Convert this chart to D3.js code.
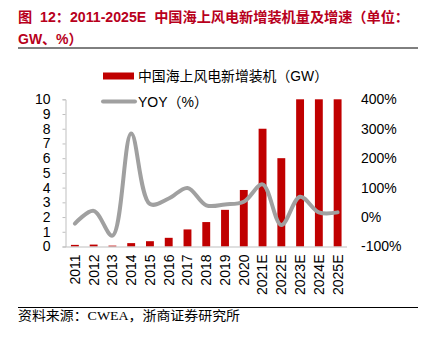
<!DOCTYPE html>
<html><head><meta charset="utf-8">
<script src="https://cdn.jsdelivr.net/npm/d3@7/dist/d3.min.js"></script>
<style>
body{margin:0;background:#fff;}
svg{display:block;}
</style></head>
<body><svg id="c" width="429" height="342"></svg>
<script>
const categories = ["2011","2012","2013","2014","2015","2016","2017","2018","2019","2020","2021E","2022E","2023E","2024E","2025E"];
const capacity = [0.11,0.13,0.06,0.23,0.36,0.59,1.16,1.66,2.49,3.84,8,6,10,10,10];
const yoy = [-22,21,-63,284,44,63,99,40,43,52,111,-27,69,16,16];
const leftTicks = [0,1,2,3,4,5,6,7,8,9,10];
const rightTicks = [-100,0,100,200,300,400];

const svg = d3.select("#c");
const sans = "Arial, 'Liberation Sans', 'Noto Sans CJK SC', sans-serif";
const red = "#c00000";

// Title
svg.append("text").attr("x",18).attr("y",22)
  .attr("fill","#b8001c").attr("font-weight","bold").attr("font-size",14)
  .attr("font-family",sans).attr("xml:space","preserve")
  .text("图  12：2011-2025E  中国海上风电新增装机量及增速（单位：")
  .attr("textLength",391).attr("lengthAdjust","spacingAndGlyphs");
svg.append("text").attr("x",18).attr("y",44)
  .attr("fill","#b8001c").attr("font-weight","bold").attr("font-size",14)
  .attr("font-family",sans).text("GW、%）");
svg.append("line").attr("x1",18).attr("x2",418).attr("y1",48).attr("y2",48)
  .attr("stroke","#000").attr("stroke-width",1);

// Scales
const x = d3.scaleBand().domain(categories).range([65.5,347]).paddingInner(0.58).paddingOuter(0.29);
const yL = d3.scaleLinear().domain([0,10]).range([246.5,99.3]);
const yR = d3.scaleLinear().domain([-100,400]).range([246.5,99.3]);

// Bars
svg.append("g").selectAll("rect").data(capacity).join("rect")
  .attr("x",(d,i)=>x(categories[i]))
  .attr("width",x.bandwidth())
  .attr("y",d=>yL(d))
  .attr("height",d=>yL(0)-yL(d))
  .attr("fill",red);

// Left axis
const gL = svg.append("g").attr("transform","translate(65.5,0)")
  .call(d3.axisLeft(yL).tickValues(leftTicks).tickSize(3).tickPadding(12).tickFormat(d3.format("d")));
gL.select(".domain").attr("stroke","#bfbfbf");
gL.selectAll(".tick line").attr("stroke","#bfbfbf");
gL.selectAll("text").attr("font-size",14).attr("font-family",sans).attr("fill","#000");

// Right axis (labels only)
const gR = svg.append("g").attr("transform","translate(347,0)")
  .call(d3.axisRight(yR).tickValues(rightTicks).tickSize(0).tickPadding(14).tickFormat(d=>d+"%"));
gR.select(".domain").remove();
gR.selectAll("text").attr("font-size",14).attr("font-family",sans).attr("fill","#000");

// Bottom axis
const gB = svg.append("g").attr("transform","translate(0,246.5)")
  .call(d3.axisBottom(x).tickSize(0).tickPadding(0));
gB.select(".domain").attr("stroke","#bfbfbf").attr("d","M65.5,0.5H347");
gB.selectAll("text").attr("font-size",14).attr("font-family",sans).attr("fill","#000")
  .attr("transform","rotate(-90)").attr("text-anchor","end")
  .attr("x",-8).attr("y",0).attr("dy","0.35em");

// Line
const line = d3.line()
  .x((d,i)=>x(categories[i])+x.bandwidth()/2)
  .y(d=>yR(d))
  .curve(d3.curveCatmullRom.alpha(0.5));
svg.append("path").datum(yoy).attr("d",line)
  .attr("fill","none").attr("stroke","#a0a0a0").attr("stroke-width",4).attr("stroke-linecap","round");

// Legend
svg.append("rect").attr("x",103).attr("y",72.5).attr("width",31).attr("height",7).attr("fill",red);
svg.append("text").attr("x",138).attr("y",81).attr("font-size",14).attr("font-family",sans)
  .attr("fill","#000").text("中国海上风电新增装机（GW）")
  .attr("textLength",190).attr("lengthAdjust","spacingAndGlyphs");
svg.append("line").attr("x1",103).attr("x2",135).attr("y1",101.5).attr("y2",101.5)
  .attr("stroke","#a0a0a0").attr("stroke-width",4).attr("stroke-linecap","round");
svg.append("text").attr("x",138).attr("y",106.5).attr("font-size",14).attr("font-family",sans)
  .attr("fill","#000").text("YOY（%）");

// Footer
svg.append("line").attr("x1",18).attr("x2",418).attr("y1",307.5).attr("y2",307.5)
  .attr("stroke","#000").attr("stroke-width",1);
svg.append("text").attr("x",18).attr("y",320).attr("font-size",13)
  .attr("font-family","'Liberation Serif', 'Noto Sans CJK SC', serif").attr("fill","#000")
  .text("资料来源：CWEA，浙商证券研究所")
  .attr("textLength",222).attr("lengthAdjust","spacingAndGlyphs");
</script></body></html>
